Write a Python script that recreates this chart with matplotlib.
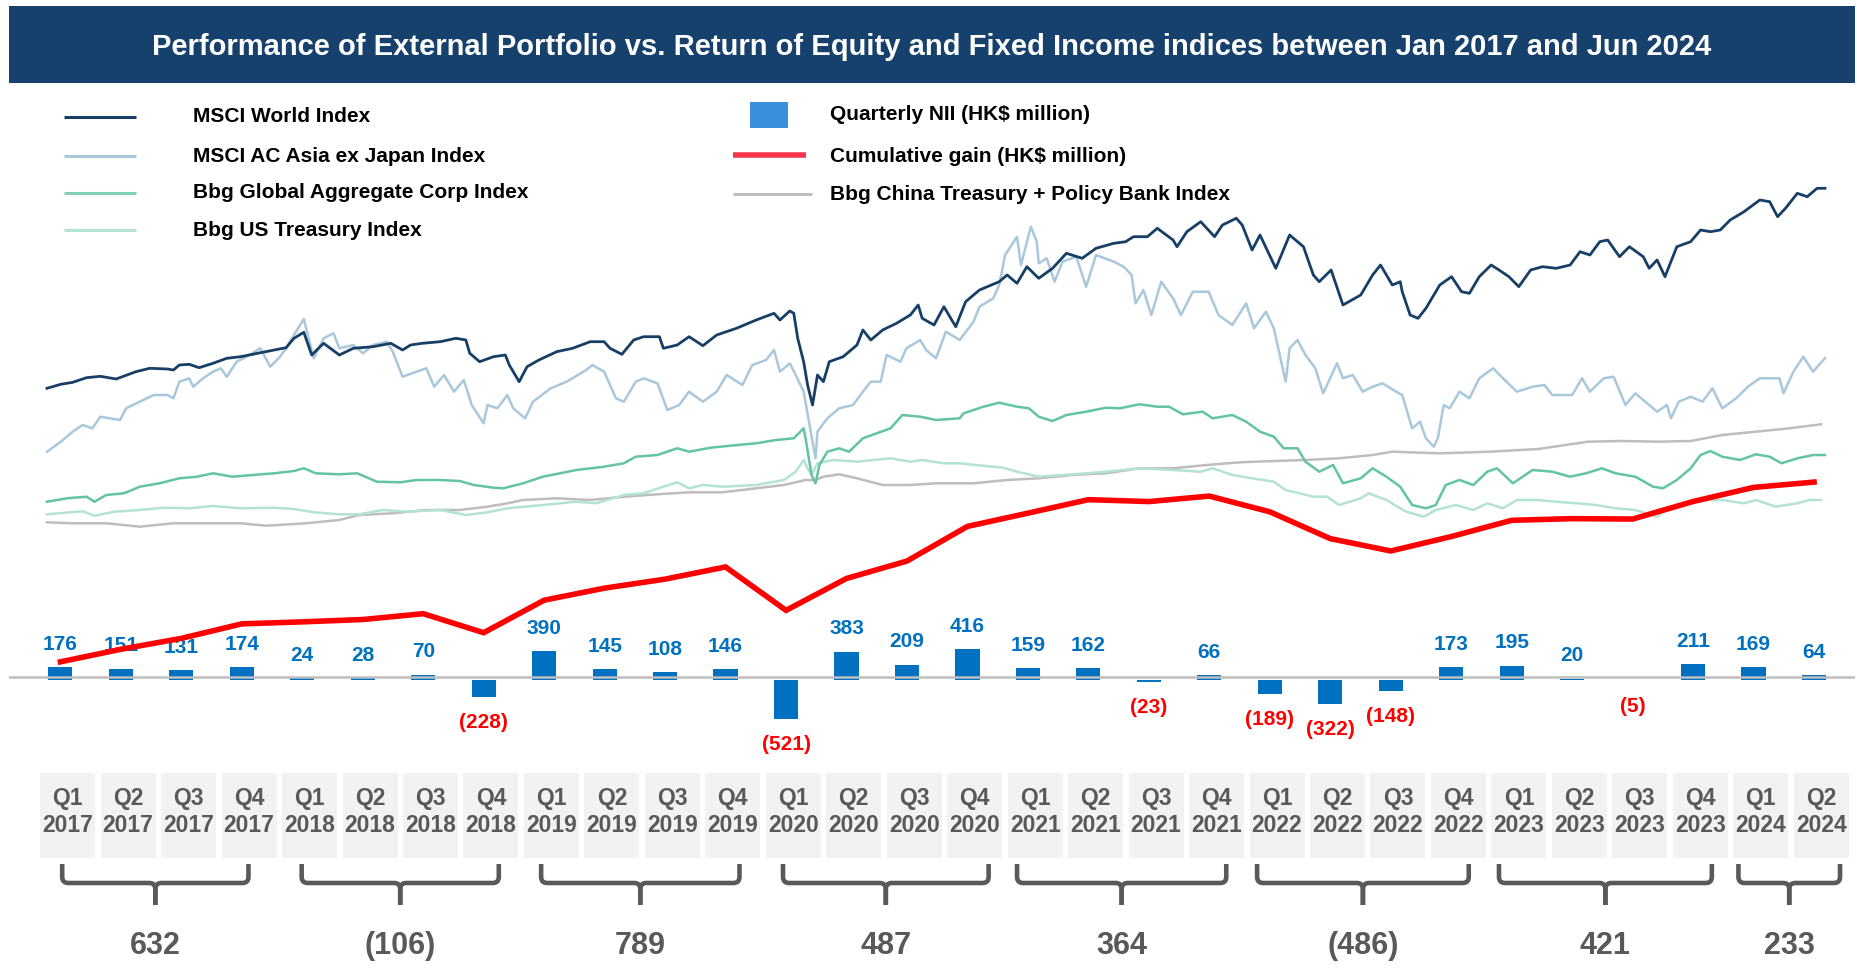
import matplotlib
matplotlib.use('Agg')
import matplotlib.pyplot as plt
from matplotlib.patches import Rectangle, PathPatch
from matplotlib.path import Path
import matplotlib.transforms as mtransforms
import numpy as np

plt.rcParams['font.family'] = ['Liberation Sans', 'DejaVu Sans']

# ---------------- data ----------------
title = ("Performance of External Portfolio vs. Return of Equity and Fixed Income "
         "indices between Jan 2017 and Jun 2024")
quarter_names = ['Q1', 'Q2', 'Q3', 'Q4'] * 7 + ['Q1', 'Q2']
quarter_years = [str(y) for y in range(2017, 2024) for _ in range(4)] + ['2024', '2024']
nii = [176, 151, 131, 174, 24, 28, 70, -228, 390, 145, 108, 146, -521, 383, 209, 416,
       159, 162, -23, 66, -189, -322, -148, 173, 195, 20, -5, 211, 169, 64]
years = ['2017', '2018', '2019', '2020', '2021', '2022', '2023', '2024']
year_totals = [632, -106, 789, 487, 364, -486, 421, 233]

# index series: (months since start of Jan 2017, relative chart level)
msci_world = [(0.0,211.7),(0.7,215.7),(1.3,217.7),(2.0,222.3),(2.7,223.7),(3.5,221),(4.5,228.3),(5.2,231.7),(6.1,231),(6.4,230),(6.7,235),(7.2,235.7),(7.7,232.3),(8.4,236.7),(9.1,241.7),(9.8,243.3),(10.4,245.7),(11.5,250),(12.1,252.3),(12.5,261.7),(13.0,267.7),(13.4,245),(14.0,256.7),(14.8,245),(15.5,251.7),(16.5,253.3),(17.4,256.7),(18.0,250),(18.4,255),(19.0,256.7),(19.9,258.3),(20.7,261.7),(21.2,260),(21.4,246.7),(21.9,238.3),(22.6,243.3),(23.2,245),(23.4,235),(23.9,218.3),(24.3,233.3),(24.9,240),(25.8,248.3),(26.6,251.7),(27.5,258.3),(28.2,258.3),(28.5,251.7),(29.1,245.7),(29.7,260),(30.2,263.3),(31.0,263.3),(31.2,251.7),(31.9,255),(32.5,263.3),(33.2,254.3),(33.9,265),(34.9,271.7),(35.9,280),(36.8,286.7),(37.1,280),(37.6,289),(37.8,286.7),(38.0,261.7),(38.3,238.3),(38.5,215),(38.75,195),(39.0,225),(39.3,218.3),(39.6,238.3),(40.3,243.3),(41.0,255),(41.3,270),(41.7,260),(42.3,270),(43.0,276.7),(43.7,285),(44.1,295),(44.3,281.7),(44.9,275),(45.4,293.3),(46.0,273.3),(46.5,298.3),(47.2,310),(48.2,318.3),(48.6,325),(49.1,316.7),(49.6,333.3),(50.2,321.7),(50.9,331.7),(51.6,346.7),(52.4,341.7),(53.1,351.7),(54.0,356.7),(54.6,358.3),(55.0,363.3),(55.7,363.3),(56.2,371.7),(57.0,360),(57.2,353.3),(57.7,368.3),(58.4,378.3),(59.1,363.3),(59.5,375),(60.2,381.7),(60.5,375),(61.0,350),(61.4,365),(62.2,331.7),(62.9,365),(63.6,353.3),(64.1,325),(64.4,318.3),(65.0,330),(65.6,295),(66.5,305),(67.1,325),(67.5,335),(68.1,315),(68.5,318.3),(68.6,308.3),(69.0,285),(69.4,281.7),(69.8,291.7),(70.1,301.7),(70.5,315),(71.1,323.3),(71.6,308.3),(72.0,306.7),(72.5,323.3),(73.1,335),(73.5,330),(74.0,323.3),(74.5,313.3),(75.1,330),(75.7,333.3),(76.4,331.7),(77.1,335),(77.6,348.3),(78.1,345),(78.6,358.3),(79.0,360),(79.6,343.3),(80.1,353.3),(80.8,343.3),(81.1,331.7),(81.5,340),(81.9,323.3),(82.5,353.3),(83.2,358.3),(83.7,370),(84.2,368.3),(84.7,370),(85.2,380),(85.9,388.3),(86.7,400),(87.2,398.3),(87.6,383.3),(88.0,391.7),(88.6,406.7),(89.1,403.3),(89.6,411.7),(90.0,411.7)]
msci_asia = [(0.0,148.3),(0.7,158.3),(1.3,168.3),(1.8,175),(2.3,171.7),(2.7,183.3),(3.7,180),(4.0,191.7),(4.7,198.3),(5.4,205),(6.1,205),(6.4,201.7),(6.7,218.3),(7.2,221.7),(7.4,213.3),(7.9,221.7),(8.4,228.3),(8.8,231.7),(9.1,223.3),(9.6,238.3),(10.1,243.3),(10.8,251.7),(11.3,233.3),(11.8,243.3),(12.1,251.7),(12.5,265),(13.0,281),(13.5,241.7),(14.0,261.7),(14.5,266.7),(14.8,251.7),(15.5,255),(16.0,246.7),(16.5,255),(17.2,258.3),(17.5,248.3),(18.0,223.3),(18.7,228.3),(19.2,231.7),(19.6,213.3),(20.1,225),(20.6,208.3),(21.1,220),(21.5,195),(22.1,176.7),(22.3,195),(22.8,191.7),(23.3,205),(23.6,191.7),(24.2,181.7),(24.6,198.3),(25.5,211.7),(26.3,218.3),(27.3,230),(27.6,235),(28.2,228.3),(28.8,201.7),(29.2,198.3),(29.8,218.3),(30.2,221.7),(30.9,216.7),(31.4,190),(32.0,195),(32.5,208.3),(33.2,198.3),(33.9,208.3),(34.4,225),(35.2,215),(35.7,235),(36.4,240),(36.8,250),(37.1,228.3),(37.6,236.7),(37.9,225),(38.3,208.3),(38.6,175),(38.9,141.7),(39.0,168.3),(39.5,181.7),(40.1,191.7),(40.8,195),(41.3,208.3),(41.7,218.3),(42.2,218.3),(42.5,245),(43.2,238.3),(43.5,251.7),(44.2,260),(44.5,250),(45.0,241.7),(45.5,268.3),(46.2,260),(46.9,278.3),(47.2,293.3),(47.9,301.7),(48.2,315),(48.5,345),(49.1,363.3),(49.3,335),(49.8,373.3),(50.1,358.3),(50.2,336.7),(50.6,341.7),(51.0,318.3),(51.4,338.3),(52.1,343.3),(52.6,313.3),(53.1,345),(54.0,338.3),(54.5,333.3),(54.9,325),(55.1,296.7),(55.5,310),(55.9,285),(56.4,318.3),(57.0,301.7),(57.4,285),(58.0,308.3),(58.8,308.3),(59.3,285),(60.0,275),(60.7,296.7),(61.1,271.7),(61.7,288.3),(62.1,271.7),(62.7,218.3),(62.9,251.7),(63.3,260),(63.7,245),(64.2,231.7),(64.6,206.7),(65.3,236.7),(65.6,221.7),(66.1,225),(66.6,208.3),(67.1,213.3),(67.6,216.7),(68.3,208.3),(68.6,205),(69.1,171.7),(69.5,178.3),(69.8,161.7),(70.2,153.3),(70.4,161.7),(70.7,195),(71.0,191.7),(71.5,208.3),(72.0,201.7),(72.5,221.7),(73.2,231.7),(73.7,221.7),(74.4,208.3),(75.2,213.3),(75.8,215),(76.2,205),(77.2,205),(77.7,221.7),(78.1,208.3),(78.8,221.7),(79.3,223.3),(79.9,195),(80.4,206.7),(80.9,198.3),(81.5,188.3),(82.0,195),(82.2,181.7),(82.6,198.3),(83.2,203.3),(83.8,198.3),(84.3,211.7),(84.8,191.7),(85.5,201.7),(86.1,213.3),(86.7,221.7),(87.7,221.7),(87.9,206.7),(88.4,228.3),(88.9,243.3),(89.4,228.3),(90.0,242)]
bbg_corp = [(0.0,98.3),(1.0,101.7),(2.0,103.3),(2.4,98.3),(3.0,105),(3.9,106.7),(4.7,113.3),(5.7,116.7),(6.7,121.7),(7.6,123.3),(8.4,126.7),(9.4,123.3),(10.4,125),(11.5,126.7),(12.5,129),(13.0,131.7),(13.6,126.7),(14.8,125.7),(15.7,126.7),(16.7,118.3),(17.9,117.7),(18.7,120),(19.9,120),(20.9,119),(21.6,115),(22.6,112.3),(23.1,111.7),(24.1,116.7),(25.1,123.3),(26.8,130),(28.2,133.3),(29.2,136.7),(29.8,143.3),(30.9,145),(31.9,151.7),(32.5,148.3),(33.6,152.3),(34.6,154.3),(35.9,156.7),(36.9,160),(37.8,161.7),(38.3,171.7),(38.4,161.7),(38.7,125),(38.9,116.7),(39.1,135),(39.5,148.3),(40.1,151.7),(40.6,148.3),(41.3,161.7),(42.0,166.7),(42.7,171.7),(43.3,185),(44.2,183.3),(45.0,180),(46.2,181.7),(46.4,186.7),(47.4,193.3),(48.2,197.3),(49.1,193.3),(49.7,191.7),(50.2,183.3),(50.9,179),(51.6,185),(52.6,188.3),(53.6,192.3),(54.3,191.7),(55.3,195.7),(56.2,193.3),(56.8,193.3),(57.5,185.7),(58.5,188.3),(59.0,181.7),(60.0,185),(60.7,178.3),(61.4,168.3),(62.1,163.3),(62.6,151.7),(63.3,151.7),(63.7,138.3),(64.4,128.3),(65.1,135),(65.6,116.7),(66.5,121.7),(67.1,131.7),(67.8,123.3),(68.5,113.3),(69.1,95),(69.8,91.7),(70.3,95),(70.8,115),(71.5,120),(72.2,115),(72.9,128.3),(73.4,131.7),(74.2,116.7),(75.2,130),(76.2,128.3),(77.1,123.3),(77.9,126.7),(78.7,131.7),(79.4,126.7),(80.4,123.3),(81.3,113.3),(81.8,111.7),(82.5,120),(83.2,131.7),(83.7,145),(84.2,149),(84.8,143.3),(85.7,140),(86.5,145.7),(87.2,143.3),(87.8,136.7),(88.6,141.7),(89.4,145),(90.0,145)]
bbg_ust = [(0.0,85.7),(1.8,88.7),(2.4,84.3),(3.4,88.3),(4.7,90),(5.9,92.3),(7.2,91.7),(8.4,94),(9.8,91.7),(11.5,92.3),(12.5,91),(13.5,87.7),(14.8,85.7),(15.8,85.7),(17.0,90),(18.2,88.3),(19.9,90),(21.2,85),(22.3,87.7),(23.3,91.7),(25.1,95),(26.8,98.3),(27.8,96.7),(29.2,105),(30.2,106.7),(31.2,113.3),(31.9,117.7),(32.5,111.7),(33.2,115),(34.2,113.3),(35.9,115),(37.3,120),(37.9,128.3),(38.3,140),(38.5,131.7),(38.7,125),(39.0,136.7),(39.8,140),(41.0,138.3),(42.7,141.7),(43.7,138.3),(44.3,140),(45.4,136.7),(46.2,136.7),(47.0,135),(48.4,132.3),(49.1,128.3),(50.2,123.3),(51.9,125.7),(53.6,128.3),(55.3,131.7),(57.0,130),(58.4,128.3),(59.0,131.7),(60.0,125),(61.0,121.7),(62.1,118.3),(62.7,110),(63.4,106.7),(64.1,103.3),(64.8,103.3),(65.4,95),(66.5,101.7),(66.9,106.7),(67.8,100),(68.8,88.3),(69.7,83.3),(70.3,90),(71.3,95),(72.2,90),(72.9,96.7),(73.7,91.7),(74.4,100),(75.4,100),(76.4,98.3),(77.4,96.7),(78.4,95),(79.4,91.7),(80.4,90),(81.5,83.3),(82.1,91.7),(83.2,96.7),(84.0,100),(84.8,100),(85.9,96.7),(86.5,100),(87.5,93.3),(88.6,96.7),(89.2,100),(89.8,100)]
bbg_china = [(0.0,77.7),(1.3,76.7),(3.0,76.7),(4.7,73.3),(6.4,76.7),(8.1,76.7),(9.8,76.7),(11.1,74.3),(13.1,76.7),(14.8,80),(15.8,85),(17.5,86.7),(19.2,90),(20.9,90),(22.3,93.3),(23.3,96.7),(24.1,100),(25.8,101.7),(27.5,100),(29.2,103.3),(30.9,105.7),(32.5,107.7),(34.2,107.7),(35.9,111.7),(37.3,115),(38.4,120),(38.9,120),(39.3,123.3),(40.1,125.7),(41.0,121.7),(42.3,115),(43.7,115),(45.0,116.7),(46.9,116.7),(48.6,120),(50.2,121.7),(51.9,125),(53.6,126.7),(55.3,131.7),(57.0,131.7),(58.7,135),(60.4,137.7),(62.1,139),(63.7,140),(65.4,141.7),(67.1,145),(68.1,148.3),(70.5,146.7),(73.0,148.3),(75.5,151),(78.0,158.3),(79.7,159),(81.5,158.3),(83.2,159),(84.8,165),(86.5,168.3),(88.2,171.7),(89.8,175.7)]

# ---------------- styles / layout ----------------
W, H, DPI = 1858, 968, 100
NAVY = '#16416c'
GREY_TXT = '#595959'
BAR_BLUE = '#0070c0'
series_styles = [
    (bbg_china, '#bdbdbd', 1.8),
    (bbg_ust, '#b3e3d2', 1.8),
    (bbg_corp, '#62c3a5', 1.8),
    (msci_asia, '#a9c8dc', 1.8),
    (msci_world, '#173f66', 2.0),
]

PANEL = (9, 85, 1855, 762)          # panel extent in figure pixels (l, t, r, b)
def frect(x0, y0, x1, y1):
    return [x0 / W, 1 - y1 / H, (x1 - x0) / W, (y1 - y0) / H]

fig = plt.figure(figsize=(W / DPI, H / DPI), dpi=DPI)
fig.patch.set_facecolor('white')

ov = fig.add_axes([0, 0, 1, 1], zorder=0)
ov.set_xlim(0, W); ov.set_ylim(H, 0); ov.axis('off')

# index lines axes
ax_idx = fig.add_axes(frect(*PANEL), zorder=1)
ax_idx.set_facecolor('#f2f2f2')
m0_px, m90_px = 47, 1825
ppm = (m90_px - m0_px) / 90.0
ax_idx.set_xlim((PANEL[0] - m0_px) / ppm, (PANEL[2] - m0_px) / ppm)
LEVEL_REF = 600
ax_idx.set_ylim(LEVEL_REF - PANEL[3], LEVEL_REF - PANEL[1])
for data, col, lw in series_styles:
    xs, ys = zip(*data)
    ax_idx.plot(xs, ys, color=col, lw=lw, solid_joinstyle='round')
ax_idx.axis('off')
ax_idx.patch.set_visible(True)

# quarter axes (bars, cumulative)
q0_px, q_step = 60.4, 60.47
qxlim = ((PANEL[0] - q0_px) / q_step, (PANEL[2] - q0_px) / q_step)
ax_bar = fig.add_axes(frect(*PANEL), zorder=2)
ax_bar.patch.set_alpha(0)
ax_bar.set_xlim(*qxlim)
bar_zero, bar_k = 680, 0.074
ax_bar.set_ylim((bar_zero - PANEL[3]) / bar_k, (bar_zero - PANEL[1]) / bar_k)
ax_bar.axis('off')

ax_cum = fig.add_axes(frect(*PANEL), zorder=3)
ax_cum.patch.set_alpha(0)
ax_cum.set_xlim(*qxlim)
cum_zero, cum_k = 676.5, 0.0833
ax_cum.set_ylim((cum_zero - PANEL[3]) / cum_k, (cum_zero - PANEL[1]) / cum_k)
ax_cum.axis('off')

qx = np.arange(len(nii))
ax_bar.bar(qx, nii, width=0.40, color=BAR_BLUE, zorder=2)
for i, v in enumerate(nii):
    if v >= 0:
        ax_bar.annotate(f'{v}', (i, v), xytext=(0, 16.5), textcoords='offset points',
                        ha='center', va='center', color=BAR_BLUE, fontsize=15,
                        fontweight='bold', annotation_clip=False)
    else:
        ax_bar.annotate(f'({-v})', (i, v), xytext=(0, -18.7), textcoords='offset points',
                        ha='center', va='center', color='#ff0000', fontsize=15,
                        fontweight='bold', annotation_clip=False)

ax_cum.axhline(0, color='#bfbfbf', lw=1.8, zorder=1)
cum = np.cumsum(nii)
ax_cum.plot(qx, cum, color='#ff0000', lw=4.0, solid_joinstyle='miter', zorder=3)

# ---------------- title ----------------
ov.add_patch(Rectangle((9, 6), 1846, 77, color=NAVY, lw=0))
ov.text(932, 47, title, color='white', fontsize=21, fontweight='bold',
        ha='center', va='center')

# ---------------- legend ----------------
left_items = [('MSCI World Index', '#173f66', 117), ('MSCI AC Asia ex Japan Index', '#a9c8dc', 156),
              ('Bbg Global Aggregate Corp Index', '#7fd0b6', 193), ('Bbg US Treasury Index', '#b3e3d2', 230)]
for lab, col, y in left_items:
    ov.plot([64, 136], [y, y], color=col, lw=2.2, solid_capstyle='butt')
    ov.text(193, y, lab, fontsize=15, fontweight='bold', ha='left', va='center', color='black')
ov.add_patch(Rectangle((750, 102), 38, 26, color='#3b8fdc', lw=0))
ov.text(830, 115, 'Quarterly NII (HK\\$ million)', fontsize=15, fontweight='bold', ha='left', va='center')
ov.plot([733, 806], [155, 155], color='#f5364c', lw=4.0, solid_capstyle='butt')
ov.text(830, 157, 'Cumulative gain (HK\\$ million)', fontsize=15, fontweight='bold', ha='left', va='center')
ov.plot([733, 812], [194, 194], color='#bfbfbf', lw=2.2, solid_capstyle='butt')
ov.text(830, 195, 'Bbg China Treasury + Policy Bank Index', fontsize=15, fontweight='bold', ha='left', va='center')

# ---------------- quarter boxes, braces, totals ----------------
trq = mtransforms.blended_transform_factory(ax_bar.transData, ov.transData)
box_off = 0.12
box_w = 55 / q_step
for i, (qn, yr) in enumerate(zip(quarter_names, quarter_years)):
    cx = i + box_off
    ov.add_patch(Rectangle((cx - box_w / 2, 773), box_w, 85, transform=trq,
                           color='#f2f2f2', lw=0, clip_on=False))
    ov.text(cx, 799, qn, transform=trq, ha='center', va='center', fontsize=16.5,
            fontweight='bold', color=GREY_TXT, clip_on=False)
    ov.text(cx, 826, yr, transform=trq, ha='center', va='center', fontsize=16.5,
            fontweight='bold', color=GREY_TXT, clip_on=False)

def brace(xc, hw, y_top=864, y_bar=883, y_bot=905, rx=0.1, ry=6):
    for s in (-1, 1):
        xe = xc + s * hw
        verts = [(xe, y_top), (xe, y_bar - ry), (xe, y_bar), (xe - s * rx, y_bar),
                 (xc + s * rx, y_bar), (xc, y_bar), (xc, y_bar + ry), (xc, y_bot)]
        codes = [Path.MOVETO, Path.LINETO, Path.CURVE3, Path.CURVE3,
                 Path.LINETO, Path.CURVE3, Path.CURVE3, Path.LINETO]
        ov.add_patch(PathPatch(Path(verts, codes), transform=trq, fill=False,
                               edgecolor=GREY_TXT, lw=3.3, clip_on=False,
                               capstyle='butt', joinstyle='round'))

# brace geometry (layout only): half-width and small centre shift, in quarter units
brace_half = [1.54, 1.63, 1.64, 1.70, 1.73, 1.75, 1.76, 0.84]
brace_shift = [-0.05, 0.0, -0.03, 0.03, -0.07, -0.08, -0.07, -0.03]
for yr, tot, hw, sh in zip(years, year_totals, brace_half, brace_shift):
    idx = [i for i, y in enumerate(quarter_years) if y == yr]
    xc = np.mean(idx) + box_off + sh
    brace(xc, hw)
    txt = f'{tot}' if tot >= 0 else f'({-tot})'
    ov.text(xc, 946, txt, transform=trq, ha='center', va='center', fontsize=22,
            fontweight='bold', color=GREY_TXT, clip_on=False)

fig.savefig('out.png', dpi=DPI, facecolor='white')
